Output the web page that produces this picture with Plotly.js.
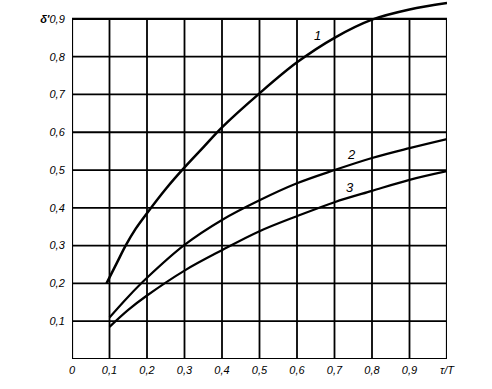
<!DOCTYPE html>
<html>
<head>
<meta charset="utf-8">
<script src="https://cdn.plot.ly/plotly-3.0.1.min.js"></script>
<style>html,body{margin:0;padding:0;background:#fff;}#chart{width:492px;height:389px;}</style>
</head>
<body>
<div id="chart"></div>
<script>
// Data
const curve1X = [0.092, 0.12, 0.143, 0.17, 0.2, 0.25, 0.3, 0.35, 0.4, 0.5, 0.6, 0.7, 0.8, 0.9, 1.0];
const curve1Y = [0.2, 0.255, 0.3, 0.345, 0.386, 0.45, 0.507, 0.56, 0.613, 0.703, 0.785, 0.85, 0.898, 0.925, 0.942];
const curve2X = [0.1, 0.15, 0.2, 0.3, 0.4, 0.5, 0.6, 0.7, 0.8, 0.9, 1.0];
const curve2Y = [0.11, 0.165, 0.215, 0.302, 0.368, 0.42, 0.465, 0.5, 0.532, 0.558, 0.582];
const curve3X = [0.1, 0.15, 0.2, 0.3, 0.4, 0.5, 0.6, 0.7, 0.8, 0.9, 1.0];
const curve3Y = [0.085, 0.13, 0.168, 0.234, 0.288, 0.338, 0.378, 0.415, 0.445, 0.474, 0.497];
const curveNames = ['1', '2', '3'];

const xTickVals = [0, 0.1, 0.2, 0.3, 0.4, 0.5, 0.6, 0.7, 0.8, 0.9, 1.0];
const xTickText = ['0', '0,1', '0,2', '0,3', '0,4', '0,5', '0,6', '0,7', '0,8', '0,9', 'τ/T'];
const yTickVals = [0.1, 0.2, 0.3, 0.4, 0.5, 0.6, 0.7, 0.8, 0.9];
const yTickText = ['0,1', '0,2', '0,3', '0,4', '0,5', '0,6', '0,7', '0,8', "<b>δ'</b>0,9"];

const xMax = 1.0, yFrameTop = 0.9;
const lineStyle = {color: '#000', width: 2.5, shape: 'spline', smoothing: 1};

const traces = [
  {x: curve1X, y: curve1Y, name: curveNames[0], mode: 'lines', line: lineStyle},
  {x: curve2X, y: curve2Y, name: curveNames[1], mode: 'lines', line: Object.assign({}, lineStyle, {width: 2.2})},
  {x: curve3X, y: curve3Y, name: curveNames[2], mode: 'lines', line: Object.assign({}, lineStyle, {width: 2.2})}
];

const gridColor = '#000';
const shapes = [];
xTickVals.filter(v => v > 0 && v < xMax).forEach(v => {
  shapes.push({type: 'line', xref: 'x', yref: 'y', x0: v, x1: v, y0: 0, y1: yFrameTop,
    line: {color: gridColor, width: 1.8}, layer: 'below'});
});
yTickVals.filter(v => v < yFrameTop).forEach(v => {
  shapes.push({type: 'line', xref: 'x', yref: 'y', x0: 0, x1: xMax, y0: v, y1: v,
    line: {color: gridColor, width: 1.8}, layer: 'below'});
});
shapes.push({type: 'rect', xref: 'x', yref: 'y', x0: 0, x1: xMax, y0: 0, y1: yFrameTop,
  line: {color: '#000', width: 2.2}, layer: 'below'});

const labelFont = {family: 'Liberation Sans, Arial, sans-serif', size: 11, color: '#000', style: 'italic'};
const annotations = [
  {x: 0.655, y: 0.855, text: curveNames[0]},
  {x: 0.745, y: 0.54, text: curveNames[1]},
  {x: 0.74, y: 0.455, text: curveNames[2]}
].map(a => Object.assign(a, {xref: 'x', yref: 'y', showarrow: false, font: Object.assign({}, labelFont, {size: 13})}));

const layout = {
  width: 492, height: 389,
  margin: {l: 72, r: 45, t: 0, b: 30},
  paper_bgcolor: '#fff', plot_bgcolor: '#fff',
  showlegend: false,
  xaxis: {range: [0, 1.0], tickvals: xTickVals, ticktext: xTickText, showgrid: false, zeroline: false,
    showline: false, ticks: 'outside', ticklen: 1, tickcolor: 'rgba(0,0,0,0)', tickfont: labelFont, fixedrange: true},
  yaxis: {range: [0, 0.95], tickvals: yTickVals, ticktext: yTickText, showgrid: false, zeroline: false,
    showline: false, ticks: 'outside', ticklen: 4, tickcolor: 'rgba(0,0,0,0)', tickfont: labelFont, fixedrange: true},
  shapes: shapes,
  annotations: annotations
};

Plotly.newPlot('chart', traces, layout, {staticPlot: true, displayModeBar: false});
</script>
</body>
</html>
